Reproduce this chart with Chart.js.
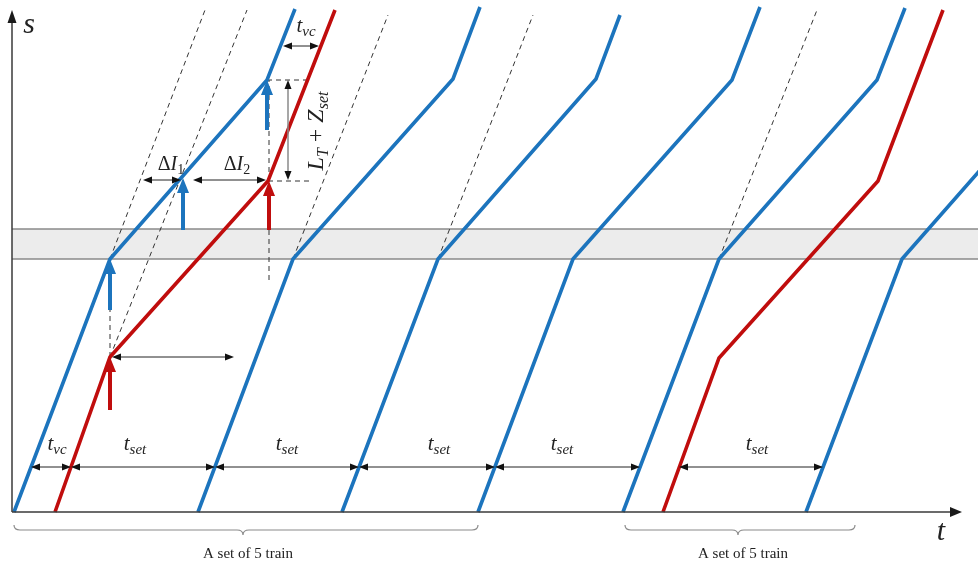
<!DOCTYPE html>
<html><head><meta charset="utf-8">
<script src="https://cdn.jsdelivr.net/npm/chart.js@4/dist/chart.umd.min.js"></script>
<style>html,body{margin:0;padding:0;background:#fff}</style>
</head><body>
<canvas id="c" width="978" height="564"></canvas>
<script>
// ---- data in (t, s) units, origin at the axes' crossing ----
const blueTrains = [
  [[2,0],[98,253],[255,432],[283,503]],
  [[186,0],[281,253],[441,433],[468,505]],
  [[330,0],[426,253],[584,433],[608,497]],
  [[466,0],[561,253],[720,432],[748,505]],
  [[611,0],[707,253],[865,432],[893,504]],
  [[794,0],[890,253],[1050,435]]
];
const redTrains = [
  [[43,0],[98,155],[256,331],[323,502]],
  [[651,0],[707,154],[866,331],[931,502]]
];
const dashedGuides = [
  [[98,253],[193,502]],
  [[98,155],[235,502]],
  [[281,253],[376,497]],
  [[426,253],[521,497]],
  [[707,253],[805,502]],
  [[98,155],[98,253]],
  [[257,232],[257,432]],
  [[255,432],[300,432]],
  [[256,331],[300,331]]
];
const bandS = [253, 283];
const bandT = [0, 966];
// vertical marks: [t, s from, s tip]
const blueMarks = [[98,202,253],[171,282,334],[255,382,432]];
const redMarks  = [[98,102,155],[257,282,331]];
// horizontal dimension arrows: [s, t1, t2]
const dimH = [
  [466,271,307],[332,131,169],[332,181,254],[155,100,222],
  [45,19,59],[45,59,203],[45,203,347],[45,347,483],[45,483,628],[45,667,811]
];
// vertical dimension arrow: [t, s1, s2]
const dimV = [[276,432,332]];
// labels with subscripts: [t centre, s baseline, main, sub]
const subLabels = [
  [45,62,'t','vc'],[123,62,'t','set'],[275,62,'t','set'],[427,62,'t','set'],
  [550,62,'t','set'],[745,62,'t','set'],[294,480,'t','vc']
];
const deltaLabels = [[159,342,'1'],[225,342,'2']];
const braces = [[2,466,231],[613,843,726]];
const braceText = 'A set of 5 train';
const axisTip = {t:950, s:502};

const BLUE = '#1c74bd', RED = '#c00d0d';
const toPts = arr => arr.map(p => ({x:p[0], y:p[1]}));
const datasets = [];
blueTrains.forEach(tr => datasets.push({data:toPts(tr), borderColor:BLUE, borderWidth:3.6, order:1}));
redTrains.forEach(tr => datasets.push({data:toPts(tr), borderColor:RED, borderWidth:3.6, order:1}));
dashedGuides.forEach(g => datasets.push({data:toPts(g), borderColor:'#333', borderWidth:1, borderDash:[5,4], order:5}));
datasets.push({data:bandT.map(t=>({x:t,y:bandS[1]})), borderColor:'#8a8a8a', borderWidth:1.3,
  fill:{value:bandS[0]}, backgroundColor:'#ececec', order:20});
datasets.push({data:bandT.map(t=>({x:t,y:bandS[0]})), borderColor:'#8a8a8a', borderWidth:1.3, order:19});
datasets.forEach(d => { d.showLine = true; d.pointRadius = 0; d.tension = 0; if (d.fill === undefined) d.fill = false; });

const SERIF = '"Liberation Serif","Times New Roman",serif';

function head(ctx, x, y, dx, dy, len, hw) {
  // tip at (x,y), direction (dx,dy) unit
  const bx = x - dx*len, by = y - dy*len;
  ctx.beginPath();
  ctx.moveTo(x, y);
  ctx.lineTo(bx - dy*hw, by + dx*hw);
  ctx.lineTo(bx + dy*hw, by - dx*hw);
  ctx.closePath();
  ctx.fill();
}
function drawParts(ctx, cx, by, parts) {
  let w = 0;
  parts.forEach(p => { ctx.font = p[1]; w += ctx.measureText(p[0]).width; });
  let x = cx - w/2;
  ctx.textAlign = 'left'; ctx.textBaseline = 'alphabetic';
  parts.forEach(p => { ctx.font = p[1]; ctx.fillText(p[0], x, by + (p[2]||0)); x += ctx.measureText(p[0]).width; });
}

const overlay = {
  id:'overlay',
  afterDatasetsDraw(chart) {
    const ctx = chart.ctx, X = v => chart.scales.x.getPixelForValue(v), Y = v => chart.scales.y.getPixelForValue(v);
    ctx.save();
    // axes
    ctx.strokeStyle = '#3a3a3a'; ctx.fillStyle = '#1a1a1a'; ctx.lineWidth = 1.5;
    ctx.beginPath(); ctx.moveTo(X(0), Y(0)); ctx.lineTo(X(0), Y(axisTip.s) + 8); ctx.stroke();
    head(ctx, X(0), Y(axisTip.s), 0, -1, 13, 4.5);
    ctx.beginPath(); ctx.moveTo(X(0), Y(0)); ctx.lineTo(X(axisTip.t) - 8, Y(0)); ctx.stroke();
    head(ctx, X(axisTip.t), Y(0), 1, 0, 12, 5);
    // coloured marks
    const mark = (m, col) => {
      const x = X(m[0]), y0 = Y(m[1]), y1 = Y(m[2]);
      ctx.strokeStyle = col; ctx.fillStyle = col; ctx.lineWidth = 4;
      ctx.beginPath(); ctx.moveTo(x, y0); ctx.lineTo(x, y1 + 12); ctx.stroke();
      head(ctx, x, y1, 0, -1, 15, 6);
    };
    blueMarks.forEach(m => mark(m, BLUE));
    redMarks.forEach(m => mark(m, RED));
    // dimension arrows
    ctx.strokeStyle = '#222'; ctx.fillStyle = '#111'; ctx.lineWidth = 1;
    dimH.forEach(d => {
      const y = Y(d[0]), x1 = X(d[1]), x2 = X(d[2]);
      ctx.beginPath(); ctx.moveTo(x1 + 4, y); ctx.lineTo(x2 - 4, y); ctx.stroke();
      head(ctx, x1, y, -1, 0, 9, 3.5);
      head(ctx, x2, y, 1, 0, 9, 3.5);
    });
    dimV.forEach(d => {
      const x = X(d[0]), y1 = Y(d[1]), y2 = Y(d[2]);
      ctx.strokeStyle = '#8a8a8a'; ctx.lineWidth = 1.5;
      ctx.beginPath(); ctx.moveTo(x, y1 + 4); ctx.lineTo(x, y2 - 4); ctx.stroke();
      head(ctx, x, y1, 0, -1, 9, 3.5);
      head(ctx, x, y2, 0, 1, 9, 3.5);
    });
    // braces
    ctx.strokeStyle = '#8a8a8a'; ctx.lineWidth = 1.2;
    braces.forEach(b => {
      const xa = X(b[0]), xb = X(b[1]), xm = X(b[2]), yl = Y(-18), ye = Y(-13), yt = Y(-23);
      ctx.beginPath();
      ctx.moveTo(xa, ye); ctx.quadraticCurveTo(xa, yl, xa + 6, yl);
      ctx.lineTo(xm - 6, yl); ctx.quadraticCurveTo(xm, yl, xm, yt);
      ctx.quadraticCurveTo(xm, yl, xm + 6, yl);
      ctx.lineTo(xb - 6, yl); ctx.quadraticCurveTo(xb, yl, xb, ye);
      ctx.stroke();
    });
    // texts
    ctx.fillStyle = '#222';
    ctx.font = '15px ' + SERIF; ctx.textAlign = 'center'; ctx.textBaseline = 'alphabetic';
    braces.forEach(b => ctx.fillText(braceText, X(b[2]) + 5, Y(-46)));
    subLabels.forEach(l => drawParts(ctx, X(l[0]), Y(l[1]), [[l[2], 'italic 21px ' + SERIF], [l[3], 'italic 15px ' + SERIF, 4]]));
    deltaLabels.forEach(l => drawParts(ctx, X(l[0]), Y(l[1]), [['Δ', '20px ' + SERIF], ['I', 'italic 20px ' + SERIF], [l[2], '14px ' + SERIF, 4]]));
    // rotated L_T + Z_set
    ctx.save();
    ctx.translate(X(311), Y(381));
    ctx.rotate(-Math.PI/2);
    drawParts(ctx, 0, 0, [['L','italic 24px ' + SERIF],['T','italic 16px ' + SERIF,5],[' + ','24px ' + SERIF],['Z','italic 24px ' + SERIF],['set','italic 16px ' + SERIF,5]]);
    ctx.restore();
    // axis names
    ctx.font = 'italic 30px ' + SERIF; ctx.textAlign = 'center';
    ctx.fillText('s', X(17), Y(479));
    ctx.fillText('t', X(929), Y(-28));
    ctx.restore();
  }
};

new Chart(document.getElementById('c'), {
  type:'scatter',
  data:{datasets},
  options:{
    responsive:false, animation:false, events:[],
    layout:{padding:0},
    scales:{
      x:{type:'linear', min:-12, max:966, display:false},
      y:{type:'linear', min:-52, max:512, display:false}
    },
    plugins:{legend:{display:false}, tooltip:{enabled:false}}
  },
  plugins:[overlay]
});
</script>
</body></html>
